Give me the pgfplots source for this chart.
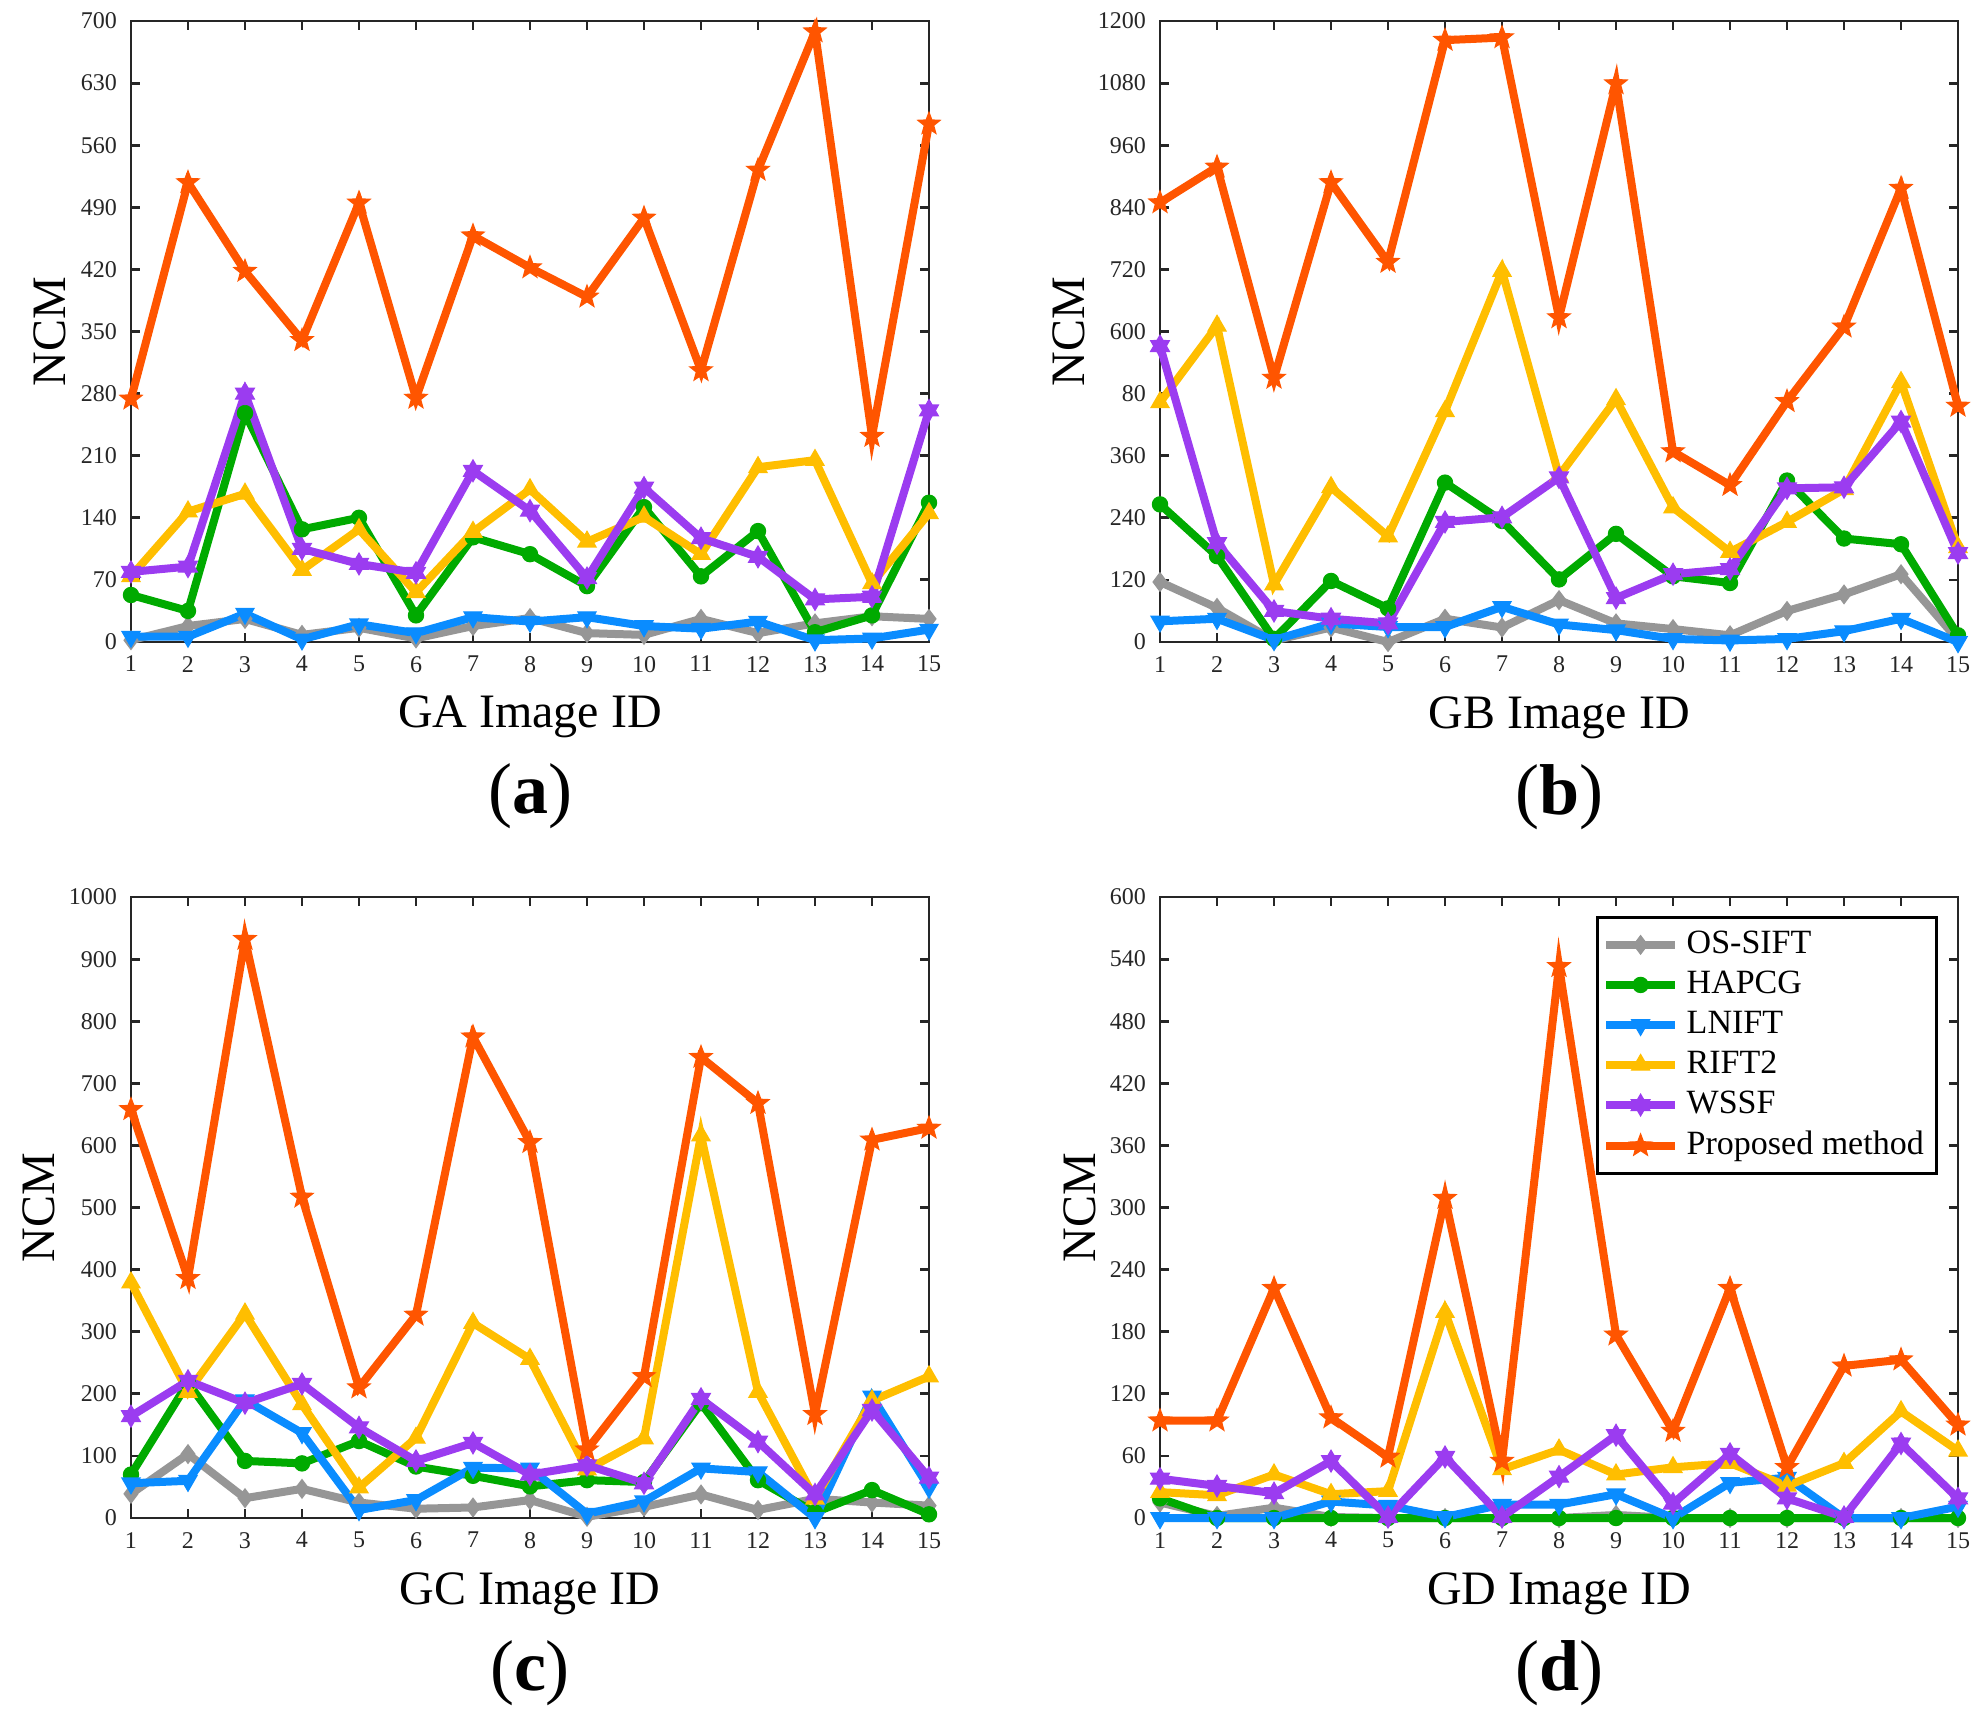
\documentclass[border=0pt]{standalone}
\usepackage{fontspec}
\setmainfont{Liberation Serif}
\usepackage{pgfplots}
\usepackage{pgfplotstable}
\pgfplotsset{compat=1.18}
\usetikzlibrary{plotmarks}

\definecolor{cgray}{RGB}{150,150,150}
\definecolor{cgreen}{RGB}{0,170,0}
\definecolor{cblue}{RGB}{10,140,255}
\definecolor{cyellow}{RGB}{255,190,0}
\definecolor{cpurple}{RGB}{155,60,240}
\definecolor{corange}{RGB}{255,85,0}
\definecolor{caxis}{RGB}{38,38,38}

\pgfdeclareplotmark{pentagram}{%
  \pgfpathmoveto{\pgfpointpolar{90}{\pgfplotmarksize}}%
  \pgfpathlineto{\pgfpointpolar{126}{0.42\pgfplotmarksize}}%
  \pgfpathlineto{\pgfpointpolar{162}{\pgfplotmarksize}}%
  \pgfpathlineto{\pgfpointpolar{198}{0.42\pgfplotmarksize}}%
  \pgfpathlineto{\pgfpointpolar{234}{\pgfplotmarksize}}%
  \pgfpathlineto{\pgfpointpolar{270}{0.42\pgfplotmarksize}}%
  \pgfpathlineto{\pgfpointpolar{306}{\pgfplotmarksize}}%
  \pgfpathlineto{\pgfpointpolar{342}{0.42\pgfplotmarksize}}%
  \pgfpathlineto{\pgfpointpolar{18}{\pgfplotmarksize}}%
  \pgfpathlineto{\pgfpointpolar{54}{0.42\pgfplotmarksize}}%
  \pgfpathclose
  \pgfusepathqfillstroke}
\pgfdeclareplotmark{hexagram}{%
  \pgfpathmoveto{\pgfpointpolar{90}{\pgfplotmarksize}}%
  \pgfpathlineto{\pgfpointpolar{120}{0.58\pgfplotmarksize}}%
  \pgfpathlineto{\pgfpointpolar{150}{\pgfplotmarksize}}%
  \pgfpathlineto{\pgfpointpolar{180}{0.58\pgfplotmarksize}}%
  \pgfpathlineto{\pgfpointpolar{210}{\pgfplotmarksize}}%
  \pgfpathlineto{\pgfpointpolar{240}{0.58\pgfplotmarksize}}%
  \pgfpathlineto{\pgfpointpolar{270}{\pgfplotmarksize}}%
  \pgfpathlineto{\pgfpointpolar{300}{0.58\pgfplotmarksize}}%
  \pgfpathlineto{\pgfpointpolar{330}{\pgfplotmarksize}}%
  \pgfpathlineto{\pgfpointpolar{0}{0.58\pgfplotmarksize}}%
  \pgfpathlineto{\pgfpointpolar{30}{\pgfplotmarksize}}%
  \pgfpathlineto{\pgfpointpolar{60}{0.58\pgfplotmarksize}}%
  \pgfpathclose
  \pgfusepathqfillstroke}

\pgfplotstableread{
x os ha ln ri ws pr
1 2 53 6 74 79 274
2 18 35 6 147 85 518
3 26 258 32 167 280 418
4 8 127 3 81 105 340
5 16 140 20 127 88 495
6 4 30 10 56 78 275
7 18 118 28 124 193 458
8 27 99 23 172 148 422
9 10 63 28 113 72 389
10 8 152 18 141 174 478
11 26 74 15 99 117 306
12 10 125 23 197 96 532
13 21 11 2 205 48 688
14 29 30 4 66 51 232
15 26 157 14 145 261 584
}\tabA

\pgfplotstableread{
x os ha ln ri ws pr
1 116 266 40 463 572 849
2 66 166 45 611 191 918
3 3 6 4 111 60 510
4 28 118 36 299 45 888
5 0 65 29 204 36 734
6 45 308 29 446 232 1163
7 28 234 68 717 241 1168
8 81 121 34 321 318 627
9 36 209 23 469 85 1079
10 25 127 6 260 131 368
11 13 114 3 174 141 303
12 60 312 6 232 297 465
13 92 200 21 295 299 609
14 131 189 45 502 426 877
15 4 13 0 183 172 456
}\tabB

\pgfplotstableread{
x os ha ln ri ws pr
1 39 70 56 379 164 658
2 103 218 60 203 221 386
3 32 92 190 329 185 932
4 47 88 137 183 216 517
5 25 124 13 49 146 210
6 15 83 29 129 92 327
7 17 68 81 314 121 775
8 29 51 80 256 70 605
9 2 61 7 78 85 110
10 18 58 27 128 56 228
11 38 185 80 616 192 742
12 13 61 74 203 123 668
13 31 9 0 31 38 167
14 25 45 196 189 174 609
15 20 6 49 228 65 628
}\tabC

\pgfplotstableread{
x os ha ln ri ws pr
1 15 19 0 25 38 94
2 2 0 0 22 31 94
3 10 0 0 42 24 222
4 1 0 16 23 55 97
5 0 0 12 26 1 59
6 0 0 1 199 59 309
7 0 0 13 47 1 55
8 0 0 13 66 40 533
9 3 0 23 42 80 177
10 0 0 0 49 14 84
11 0 0 34 53 62 222
12 0 0 39 31 19 49
13 0 0 0 53 1 147
14 0 0 0 103 72 153
15 0 0 11 65 19 90
}\tabD

\pgfplotsset{
  sOS/.style={color=cgray, line width=2pt, mark=diamond*, mark size=2.3pt, mark options={solid,line width=0.3pt}},
  sHA/.style={color=cgreen, line width=2pt, mark=*, mark size=1.9pt, mark options={solid,line width=0.3pt}},
  sLN/.style={color=cblue, line width=2pt, mark=triangle*, mark size=2.6pt, mark options={solid,rotate=180,line width=0.3pt}},
  sRI/.style={color=cyellow, line width=2pt, mark=triangle*, mark size=2.6pt, mark options={solid,line width=0.3pt}},
  sWS/.style={color=cpurple, line width=2pt, mark=hexagram, mark size=2.7pt, mark options={solid,line width=0.3pt}},
  sPR/.style={color=corange, line width=2pt, mark=pentagram, mark size=2.9pt, mark options={solid,line width=0.3pt}},
  panel/.style={
    width=199.5pt, height=155.25pt, scale only axis,
    xmin=1, xmax=15, xtick={1,...,15},
    axis line style={caxis, line width=0.7pt},
    tick style={caxis, line width=0.7pt},
    major tick length=2.2pt,
    tick align=inside,
    ticklabel style={font=\fontsize{6}{7}\selectfont, text=caxis},
    label style={font=\fontsize{12}{14}\selectfont, text=black},
    clip=false,
    /pgf/number format/assume math mode=true,
    scaled y ticks=false,
    y tick label style={/pgf/number format/1000 sep={}},
    xlabel style={at={(axis description cs:0.5,-0.1385)}, anchor=base},
    ylabel={NCM},
  },
}

\newcommand{\allplots}[1]{%
  \addplot[sOS] table[x=x,y=os]{#1};
  \addplot[sHA] table[x=x,y=ha]{#1};
  \addplot[sLN] table[x=x,y=ln]{#1};
  \addplot[sRI] table[x=x,y=ri]{#1};
  \addplot[sWS] table[x=x,y=ws]{#1};
  \addplot[sPR] table[x=x,y=pr]{#1};
}
\newcommand{\panellabel}[1]{\node[anchor=base, font=\fontsize{18}{20}\selectfont] at (axis description cs:0.5,-0.277) {(\textbf{#1})};}

\begin{document}
\begin{tikzpicture}
\useasboundingbox (0,0) rectangle (497pt,-432pt);

\begin{axis}[panel, at={(32.75pt,-5.25pt)}, anchor=north west,
  ymin=0, ymax=700, ytick={0,70,...,700},
  xlabel={GA Image ID},
  ylabel style={at={(axis description cs:-0.1015,0.5)}, anchor=center}]
\allplots{\tabA}
\panellabel{a}
\end{axis}

\begin{axis}[panel, at={(290pt,-5.25pt)}, anchor=north west,
  ymin=0, ymax=1200, ytick={0,120,...,1200},
  yticklabels={0,120,240,360,80,600,720,840,960,1080,1200},
  xlabel={GB Image ID},
  ylabel style={at={(axis description cs:-0.114,0.5)}, anchor=center}]
\allplots{\tabB}
\panellabel{b}
\end{axis}

\begin{axis}[panel, at={(32.75pt,-224.25pt)}, anchor=north west,
  ymin=0, ymax=1000, ytick={0,100,...,1000},
  xlabel={GC Image ID},
  ylabel style={at={(axis description cs:-0.115,0.5)}, anchor=center}]
\allplots{\tabC}
\panellabel{c}
\end{axis}

\begin{axis}[panel, at={(290pt,-224.25pt)}, anchor=north west,
  ymin=0, ymax=600, ytick={0,60,...,600},
  xlabel={GD Image ID},
  ylabel style={at={(axis description cs:-0.100,0.5)}, anchor=center},
  legend style={at={(axis description cs:0.975,0.969)}, anchor=north east,
    draw=black, line width=0.75pt, font=\fontsize{8.5}{9.5}\selectfont,
    inner sep=1.2pt, row sep=-1.1pt, cells={anchor=west}}]
\allplots{\tabD}
\legend{OS-SIFT,HAPCG,LNIFT,RIFT2,WSSF,Proposed method}
\panellabel{d}
\end{axis}
\end{tikzpicture}
\end{document}
